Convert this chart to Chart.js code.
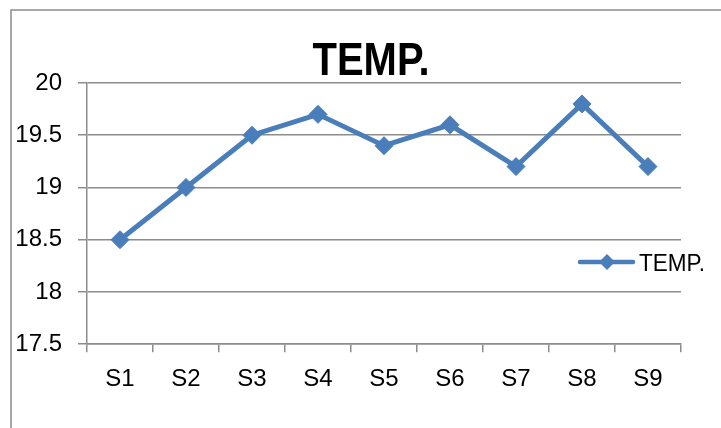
<!DOCTYPE html>
<html>
<head>
<meta charset="utf-8">
<script src="https://cdn.jsdelivr.net/npm/chart.js@4"></script>
<style>
  html, body { margin: 0; padding: 0; background: #fff; overflow: hidden; }
  #wrap { width: 721px; height: 428px; position: relative; }
</style>
</head>
<body>
<div id="wrap"><canvas id="tempChart"></canvas></div>
<script>
const categories = ["S1", "S2", "S3", "S4", "S5", "S6", "S7", "S8", "S9"];
const tempValues = [18.5, 19.0, 19.5, 19.7, 19.4, 19.6, 19.2, 19.8, 19.2];
const seriesName = "TEMP.";
const chartTitle = "TEMP.";

const lineBlue = "#4a7ebb";
const gridGray = "#8c8c8c";

// outer frame of the chart object, only top and left edges are in view
const framePlugin = {
    id: "frame",
    beforeDraw(chart) {
        const ctx = chart.ctx;
        ctx.save();
        ctx.fillStyle = "#fff";
        ctx.fillRect(0, 0, chart.width, chart.height);
        ctx.strokeStyle = gridGray;
        ctx.lineWidth = 1.5;
        ctx.strokeRect(11, 10, 800, 500);
        ctx.restore();
    }
};

// title is a bit left of the plot centre in the original, so drawn here
const titlePlugin = {
    id: "sheetTitle",
    afterDraw(chart) {
        const ctx = chart.ctx;
        ctx.save();
        ctx.fillStyle = "#000";
        ctx.font = "bold 46px 'Liberation Sans', sans-serif";
        ctx.textAlign = "center";
        ctx.textBaseline = "alphabetic";
        ctx.fillText(chartTitle, 371, 75, 117);
        ctx.restore();
    }
};

// legend sits on top of the plot area, like the original
const overlayLegend = {
    id: "overlayLegend",
    afterDraw(chart) {
        const ctx = chart.ctx;
        const ds = chart.data.datasets[0];
        const y = 262;
        ctx.save();
        ctx.strokeStyle = ds.borderColor;
        ctx.lineWidth = 4.5;
        ctx.lineCap = "round";
        ctx.beginPath();
        ctx.moveTo(580, y);
        ctx.lineTo(633, y);
        ctx.stroke();
        ctx.fillStyle = ds.backgroundColor;
        ctx.beginPath();
        ctx.moveTo(607 - 8, y);
        ctx.lineTo(607, y - 8);
        ctx.lineTo(607 + 8, y);
        ctx.lineTo(607, y + 8);
        ctx.closePath();
        ctx.fill();
        ctx.fillStyle = "#000";
        ctx.font = "24px 'Liberation Sans', sans-serif";
        ctx.textBaseline = "alphabetic";
        ctx.textAlign = "left";
        ctx.fillText(ds.label, 639, 271, 66);
        ctx.restore();
    }
};

new Chart(document.getElementById("tempChart"), {
    type: "line",
    data: {
        labels: categories,
        datasets: [
            {
                label: seriesName,
                data: tempValues,
                borderColor: lineBlue,
                backgroundColor: lineBlue,
                borderWidth: 5,
                pointStyle: "rectRot",
                pointRadius: 9,
                pointHoverRadius: 9,
                pointBorderWidth: 1,
                tension: 0
            }
        ]
    },
    options: {
        responsive: true,
        maintainAspectRatio: false,
        animation: false,
        layout: {
            padding: { left: 13, right: 40, top: 83, bottom: 21 }
        },
        plugins: {
            legend: { display: false },
            tooltip: { enabled: false },
            title: { display: false }
        },
        scales: {
            x: {
                offset: true,
                grid: {
                    offset: true,
                    drawOnChartArea: false,
                    drawTicks: true,
                    tickLength: 8,
                    color: gridGray,
                    lineWidth: 1.5
                },
                border: { color: gridGray, width: 1.5 },
                ticks: {
                    color: "#000",
                    padding: 13,
                    font: { family: "'Liberation Sans', sans-serif", size: 24 }
                }
            },
            y: {
                min: 17.5,
                max: 20,
                afterFit(scale) { scale.width = 74; },
                grid: {
                    color: gridGray,
                    lineWidth: 1.5,
                    tickLength: 9
                },
                border: { color: gridGray, width: 1.5 },
                ticks: {
                    stepSize: 0.5,
                    color: "#000",
                    padding: 16,
                    font: { family: "'Liberation Sans', sans-serif", size: 24 },
                    callback: (v) => String(Number(v.toFixed(1)))
                }
            }
        }
    },
    plugins: [framePlugin, titlePlugin, overlayLegend]
});
</script>
</body>
</html>
